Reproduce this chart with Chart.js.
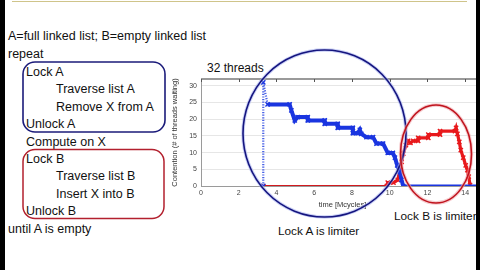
<!DOCTYPE html>
<html>
<head>
<meta charset="utf-8">
<script src="https://cdn.jsdelivr.net/npm/chart.js@4.4.1/dist/chart.umd.min.js"></script>
<style>
  html, body { margin:0; padding:0; background:#fff; }
  body { width:480px; height:270px; overflow:hidden; position:relative; font-family:"Liberation Sans", Arial, sans-serif; color:#111; }
  .t { position:absolute; font-size:12.5px; line-height:14px; white-space:nowrap; }
  #wrap { position:absolute; left:160px; top:60px; width:340px; height:160px; }
  svg { position:absolute; left:0; top:0; }
  .strip { position:absolute; top:0; height:270px; background:#000; }
</style>
</head>
<body>
<div style="position:absolute;left:12px;top:1px;width:455px;height:0;border-top:1.5px solid #cfc48a;"></div>

<div class="t" style="left:8px;top:29px;">A=full linked list; B=empty linked list</div>
<div class="t" style="left:8px;top:47px;">repeat</div>
<div class="t" style="left:26px;top:64.5px;">Lock A</div>
<div class="t" style="left:56px;top:82px;">Traverse list A</div>
<div class="t" style="left:56px;top:99.5px;">Remove X from A</div>
<div class="t" style="left:26px;top:117px;">Unlock A</div>
<div class="t" style="left:26px;top:134.5px;">Compute on X</div>
<div class="t" style="left:26px;top:152px;">Lock B</div>
<div class="t" style="left:56px;top:169px;">Traverse list B</div>
<div class="t" style="left:56px;top:186.5px;">Insert X into B</div>
<div class="t" style="left:26px;top:204px;">Unlock B</div>
<div class="t" style="left:8px;top:221.5px;">until A is empty</div>

<div class="t" style="left:207px;top:60.5px;font-size:12px;">32 threads</div>
<div class="t" style="left:278px;top:223.5px;font-size:11.8px;">Lock A is limiter</div>
<div class="t" style="left:394px;top:209px;font-size:11.8px;">Lock B is limiter</div>

<div id="wrap"><canvas id="c" width="340" height="160"></canvas></div>

<svg width="480" height="270" viewBox="0 0 480 270">
  <rect x="23" y="62" width="142" height="70" rx="12" ry="12" fill="none" stroke="#1b1b7a" stroke-width="1.6"/>
  <rect x="23" y="149.5" width="141" height="69" rx="12" ry="12" fill="none" stroke="#b3202e" stroke-width="1.5"/>
  <ellipse cx="324.5" cy="133.5" rx="81.5" ry="83.5" fill="none" stroke="#aab4f0" stroke-width="3.5" opacity="0.6"/>
  <ellipse cx="324.5" cy="133.5" rx="81.5" ry="83.5" fill="none" stroke="#15157f" stroke-width="1.6"/>
  <ellipse cx="436" cy="154" rx="35.5" ry="49" fill="none" stroke="#f0a8ae" stroke-width="3.5" opacity="0.6"/>
  <ellipse cx="436" cy="154" rx="35.5" ry="49" fill="none" stroke="#c0141e" stroke-width="1.6"/>
</svg>

<div class="strip" style="left:0;width:5px;"></div>
<div class="strip" style="left:476px;width:4px;"></div>

<script>
// Lock A contention (blue) – time in Mcycles, threads waiting
const lockATime    = [3.3, 3.3, 3.53, 4.70, 4.79, 4.97, 5.12, 5.66, 5.66, 6.56, 6.56, 7.25, 7.25, 8.05, 8.05, 8.31, 8.42, 8.5, 8.77, 9.12, 9.3, 9.65, 9.9, 10.17, 10.28, 10.4, 10.54, 10.63, 10.72, 15];
const lockAWaiting = [0, 31, 24.4, 24.4, 22.6, 19.6, 20.6, 20.6, 19.6, 19.6, 18.6, 18.6, 17.4, 17.4, 15.8, 15.8, 16.8, 15.6, 14.6, 14.6, 12.7, 12.7, 9.9, 9.9, 8.5, 6.2, 4.2, 1.8, 0, 0];
// Lock B contention (red)
const lockBTime    = [3.3, 9.85, 9.9, 10.2, 10.43, 10.54, 10.63, 10.72, 10.86, 10.98, 11.1, 11.25, 11.51, 11.51, 12.05, 12.05, 12.67, 12.67, 13.46, 13.52, 13.59, 13.69, 13.77, 13.9, 14.03, 14.12, 14.19, 14.26];
const lockBWaiting = [0, 0, 1, 1, 1.8, 4.75, 7.2, 9.7, 12.2, 13.5, 12.9, 13.5, 13.5, 14.4, 14.4, 15.35, 15.35, 16.4, 16.4, 17.4, 15.6, 13.2, 10.7, 8.5, 6.2, 4.75, 2.8, 0.3];
const xTicks = [0, 2, 4, 6, 8, 10, 12, 14];
const yTicks = [0, 5, 10, 15, 20, 25, 30];

const toPts = (xs, ys) => xs.map((x, i) => ({x, y: ys[i]}));
const bigJump = ctx => Math.abs(ctx.p1.parsed.y - ctx.p0.parsed.y) > 5 && Math.abs(ctx.p1.parsed.x - ctx.p0.parsed.x) < 0.3;
const onBase = ctx => ctx.p0.parsed.y === 0 && ctx.p1.parsed.y === 0;

const frame = {
  id: 'frame',
  afterDraw(chart) {
    const {ctx, chartArea: a, scales: {x}} = chart;
    ctx.save();
    ctx.strokeStyle = '#9a9a9a';
    ctx.lineWidth = 2;
    ctx.beginPath(); ctx.moveTo(a.left, a.top); ctx.lineTo(a.right, a.top); ctx.stroke();
    ctx.strokeStyle = '#555';
    ctx.lineWidth = 1;
    xTicks.forEach(v => {
      const px = Math.round(x.getPixelForValue(v)) + 0.5;
      ctx.beginPath(); ctx.moveTo(px, a.top); ctx.lineTo(px, a.top + 3); ctx.stroke();
    });
    ctx.restore();
  }
};

new Chart(document.getElementById('c'), {
  type: 'line',
  data: {
    datasets: [
      {
        label: 'Lock A',
        data: toPts(lockATime, lockAWaiting),
        borderColor: '#1a35e0',
        backgroundColor: '#1a35e0',
        borderWidth: 4,
        pointStyle: 'crossRot',
        pointRadius: 3,
        pointBorderWidth: 1.4,
        pointBorderColor: '#1a35e0',
        tension: 0,
        segment: {
          borderDash: ctx => bigJump(ctx) ? [1.2, 1.4] : undefined,
          borderWidth: ctx => bigJump(ctx) ? 2.2 : (onBase(ctx) ? 3 : undefined),
          borderColor: ctx => bigJump(ctx) ? '#4a62e6' : undefined
        }
      },
      {
        label: 'Lock B',
        data: toPts(lockBTime, lockBWaiting),
        borderColor: '#e8191c',
        backgroundColor: '#e8191c',
        borderWidth: 3.2,
        pointStyle: 'crossRot',
        pointRadius: 3,
        pointBorderWidth: 1.4,
        pointBorderColor: '#e8191c',
        tension: 0,
        segment: {
          borderWidth: ctx => onBase(ctx) ? 2 : undefined,
          borderColor: ctx => onBase(ctx) ? '#d21a1e' : undefined
        }
      }
    ]
  },
  options: {
    responsive: false,
    animation: false,
    devicePixelRatio: 1,
    layout: { padding: { left: 0, right: 16, top: 19, bottom: 9 } },
    plugins: { legend: { display: false }, tooltip: { enabled: false } },
    scales: {
      x: {
        type: 'linear', min: 0, max: 15,
        afterFit: s => { s.height = 25; },
        afterBuildTicks: s => { s.ticks = xTicks.map(v => ({value: v})); },
        ticks: { font: { family: 'Liberation Sans', size: 7 }, color: '#444', padding: 3, maxRotation: 0 },
        grid: { drawOnChartArea: false, drawTicks: false },
        border: { color: '#9a9a9a', width: 1 },
        title: { display: true, text: 'time [Mcycles]', font: { family: 'Liberation Sans', size: 7.5 }, color: '#333', padding: { top: 0, bottom: 1.5 } }
      },
      y: {
        type: 'linear', min: 0, max: 32,
        afterFit: s => { s.width = 41; },
        afterBuildTicks: s => { s.ticks = yTicks.map(v => ({value: v})); },
        ticks: { font: { family: 'Liberation Sans', size: 7 }, color: '#444', padding: 4 },
        grid: { color: '#e6e6e6', lineWidth: 1, drawTicks: false },
        border: { color: '#9a9a9a', width: 1 },
        title: { display: true, text: 'Contention (# of threads waiting)', font: { family: 'Liberation Sans', size: 7.5 }, color: '#333', padding: { top: 10.5, bottom: 0 } }
      }
    }
  },
  plugins: [frame]
});
</script>
</body>
</html>
